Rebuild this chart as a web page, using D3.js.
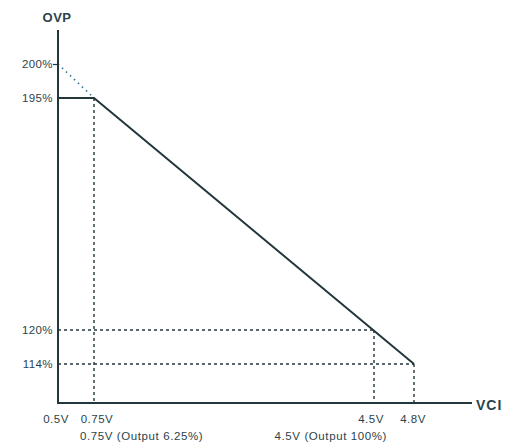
<!DOCTYPE html>
<html>
<head>
<meta charset="utf-8">
<script src="https://cdn.jsdelivr.net/npm/d3@7"></script>
<style>
  html, body { margin: 0; padding: 0; background: #fff; }
  svg { display: block; }
  text { font-family: "Liberation Sans", Arial, sans-serif; fill: #2b434b; }
</style>
</head>
<body>
<script>
// ---- data ----
const xTicks = [0.5, 0.75, 4.5, 4.8];
const xTickLabels = ["0.5V", "0.75V", "4.5V", "4.8V"];
const yTicks = [200, 195, 120, 114];
const yTickLabels = ["200%", "195%", "120%", "114%"];
const curveV = [0.5, 0.75, 4.8];
const curveOVP = [195, 195, 114];
const extV = [0.5, 0.75];
const extOVP = [200, 195];
const guideV = [0.75, 4.5, 4.8];
const guideOVP = [195, 120, 114];
const noteV = [0.75, 4.5];
const noteLabels = ["0.75V (Output 6.25%)", "4.5V (Output 100%)"];
const xTitle = "VCI";
const yTitle = "OVP";

// ---- drawing ----
const W = 506, H = 447;
const svg = d3.select("body").append("svg").attr("width", W).attr("height", H);

// schematic (piecewise) scales
const x = d3.scaleLinear().domain([0.5, 0.75, 4.5, 4.8]).range([58, 94, 374, 414]);
const y = d3.scaleLinear().domain([100, 114, 120, 195, 200]).range([403, 364, 330, 98, 64]);

const lineCol = "#22373c";

// dashed guides
const g = svg.append("g").attr("stroke", lineCol).attr("stroke-width", 1.4)
  .attr("stroke-dasharray", "3,3").attr("fill", "none");
guideV.forEach((v, i) => {
  g.append("line").attr("x1", x(v)).attr("x2", x(v))
    .attr("y1", y(guideOVP[i])).attr("y2", y(100));
  if (i > 0) {
    g.append("line").attr("x1", x(0.5)).attr("x2", x(v))
      .attr("y1", y(guideOVP[i])).attr("y2", y(guideOVP[i]));
  }
});

// dotted extension toward 200%
svg.append("path")
  .attr("d", d3.line().x((d, i) => x(extV[i])).y(d => y(d))(extOVP))
  .attr("fill", "none").attr("stroke", "#2f7592").attr("stroke-width", 1.6)
  .attr("stroke-dasharray", "1.5,4");

// axes
const yAxis = d3.axisLeft(y).tickValues([200]).tickSize(5).tickFormat("");
svg.append("g").attr("transform", `translate(${x(0.5)},0)`).call(yAxis)
  .call(s => s.select(".domain").remove())
  .call(s => s.selectAll("line").attr("stroke", lineCol).attr("stroke-width", 1.2));
svg.append("line").attr("x1", x(0.5)).attr("x2", x(0.5)).attr("y1", 30).attr("y2", y(100))
  .attr("stroke", lineCol).attr("stroke-width", 2);
svg.append("line").attr("x1", x(0.5) - 1).attr("x2", 472).attr("y1", y(100)).attr("y2", y(100))
  .attr("stroke", lineCol).attr("stroke-width", 2);

// main curve
svg.append("path")
  .attr("d", d3.line().x((d, i) => x(curveV[i])).y(d => y(d))(curveOVP))
  .attr("fill", "none").attr("stroke", lineCol).attr("stroke-width", 2)
  .attr("stroke-linejoin", "miter");

// y tick labels
yTicks.forEach((v, i) => {
  svg.append("text").attr("x", 53).attr("y", y(v) + 4)
    .attr("text-anchor", "end").attr("font-size", 11.5).attr("letter-spacing", 0.4)
    .text(yTickLabels[i]);
});

// x tick labels
const xOff = [-2, 3, -3, -1];
xTicks.forEach((v, i) => {
  svg.append("text").attr("x", x(v) + xOff[i]).attr("y", 423)
    .attr("text-anchor", "middle").attr("font-size", 11.5).attr("letter-spacing", 0.5)
    .text(xTickLabels[i]);
});

// notes
svg.append("text").attr("x", x(noteV[0]) - 14).attr("y", 440)
  .attr("text-anchor", "start").attr("font-size", 11.5).attr("letter-spacing", 0.6)
  .text(noteLabels[0]);
svg.append("text").attr("x", x(noteV[1]) + 13).attr("y", 440)
  .attr("text-anchor", "end").attr("font-size", 11.5).attr("letter-spacing", 0.6)
  .text(noteLabels[1]);

// titles
svg.append("text").attr("x", 57).attr("y", 22).attr("text-anchor", "middle")
  .attr("font-size", 13).attr("font-weight", "bold").attr("letter-spacing", 0.5)
  .text(yTitle);
svg.append("text").attr("x", 476).attr("y", 410).attr("text-anchor", "start")
  .attr("font-size", 14).attr("font-weight", "bold").attr("letter-spacing", 1)
  .text(xTitle);
</script>
</body>
</html>
